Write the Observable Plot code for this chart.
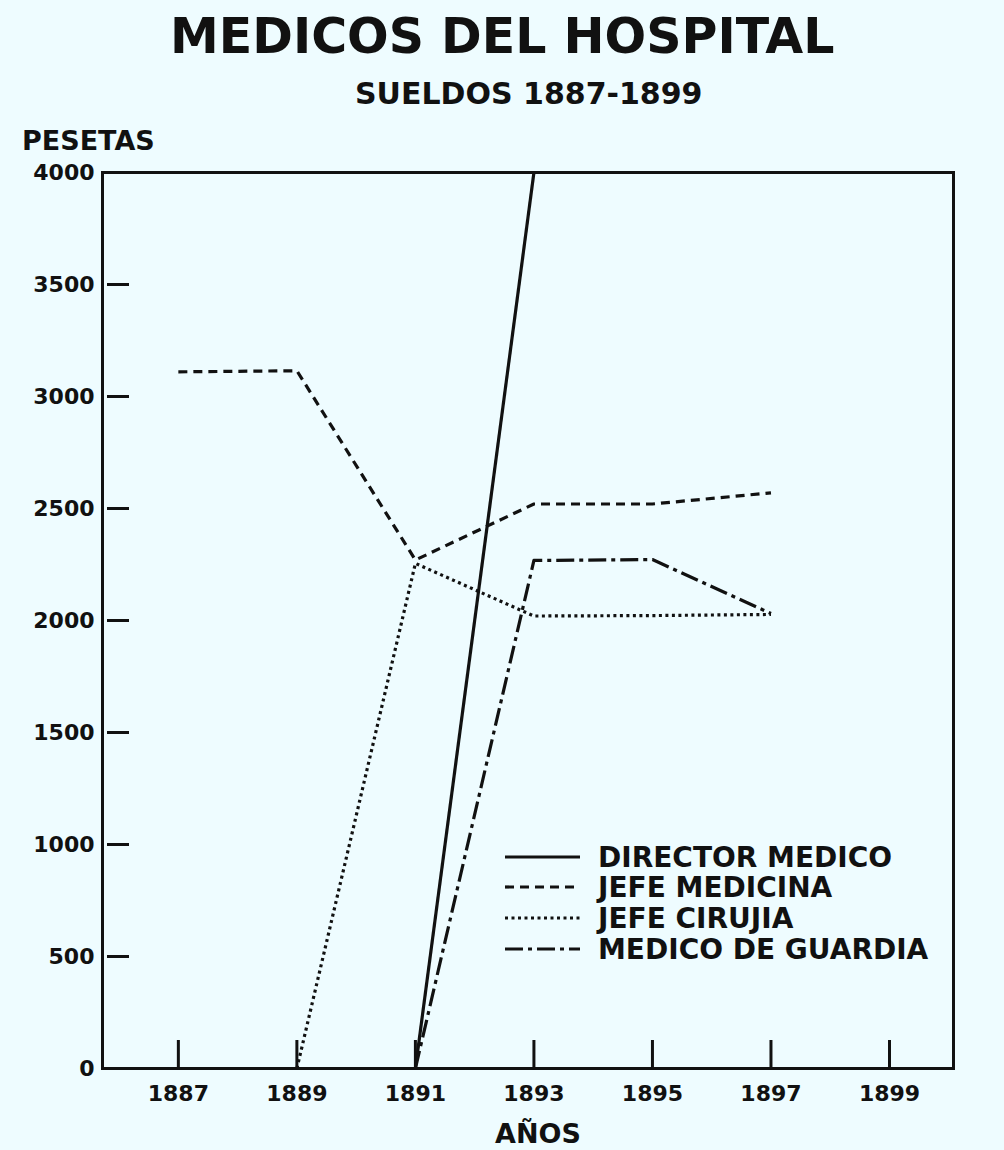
<!DOCTYPE html>
<html><head><meta charset="utf-8">
<script src="https://cdn.jsdelivr.net/npm/d3@7"></script>
<script src="https://cdn.jsdelivr.net/npm/@observablehq/plot@0.6"></script>
<style>
html,body{margin:0;padding:0;background:#eefcff;}
#wrap{position:relative;width:1004px;height:1150px;background:#eefcff;font-family:"DejaVu Sans",sans-serif;font-weight:bold;color:#111;overflow:hidden;}
.t{position:absolute;white-space:nowrap;line-height:1;}
#chart{position:absolute;left:0;top:120px;}
#legend{position:absolute;left:0;top:0;pointer-events:none;}
</style></head><body>
<div id="wrap">
  <div class="t" style="left:170px;top:12px;font-size:49px;">MEDICOS DEL HOSPITAL</div>
  <div class="t" style="left:355px;top:79px;font-size:30px;">SUELDOS 1887-1899</div>
  <div class="t" style="left:22px;top:127px;font-size:27px;">PESETAS</div>
  <div class="t" style="left:495px;top:1120px;font-size:27px;">AÑOS</div>
  <div id="chart"></div>
  <svg id="legend" width="1004" height="1150"></svg>
</div>
<script>
const years = [1887, 1889, 1891, 1893, 1895, 1897];
const directorMedico = [null, null, 0, 4000, null, null];
const jefeMedicina = [3110, 3115, 2270, 2520, 2520, 2570];
const jefeCirujia = [null, 0, 2255, 2020, 2022, 2027];
const medicoGuardia = [null, null, 0, 2268, 2272, 2031];
const seriesNames = ["DIRECTOR MEDICO", "JEFE MEDICINA", "JEFE CIRUJIA", "MEDICO DE GUARDIA"];
const xTicks = [1887, 1889, 1891, 1893, 1895, 1897, 1899];
const yTicks = [0, 500, 1000, 1500, 2000, 2500, 3000, 3500, 4000];

const dashes = [null, "9,6", "3,3.5", "18,5,4,5"];
const allValues = [directorMedico, jefeMedicina, jefeCirujia, medicoGuardia];
const rows = allValues.map(vals => years.map((year, i) => ({year, value: vals[i]})).filter(d => d.value != null));

const chart = Plot.plot({
  width: 1004, height: 1030,
  marginTop: 52, marginBottom: 82, marginLeft: 102, marginRight: 51,
  style: {background: "transparent", fontFamily: "DejaVu Sans", fontWeight: "bold", color: "#111", overflow: "visible"},
  x: {domain: [1885.72, 1900.08]},
  y: {domain: [0, 4000]},
  marks: [
    Plot.axisX(xTicks, {tickSize: 0, tickPadding: 17, tickFormat: "d", fontSize: 22, label: null}),
    Plot.axisX(xTicks, {tickSize: -28, fill: "none", strokeWidth: 3, label: null}),
    Plot.axisY(yTicks, {tickSize: 0, tickPadding: 8, tickFormat: "d", fontSize: 22, label: null}),
    Plot.axisY(yTicks, {tickSize: -22, dx: 5, fill: "none", strokeWidth: 3, label: null}),
    ...rows.map((r, i) => Plot.line(r, {x: "year", y: "value", stroke: "#111", strokeWidth: 3.2, strokeDasharray: dashes[i], strokeLinecap: "butt"})),
    Plot.frame({stroke: "#111", strokeWidth: 3})
  ]
});
document.getElementById("chart").appendChild(chart);

// legend
const lg = d3.select("#legend");
const rowY = [857, 887, 918, 949];
seriesNames.forEach((name, i) => {
  lg.append("line").attr("x1", 505).attr("x2", 580).attr("y1", rowY[i]).attr("y2", rowY[i])
    .attr("stroke", "#111").attr("stroke-width", 3.2).attr("stroke-dasharray", dashes[i]);
  lg.append("text").attr("x", 598).attr("y", rowY[i] + 10).text(name)
    .attr("font-family", "DejaVu Sans").attr("font-weight", "bold").attr("font-size", 28).attr("fill", "#111");
});
</script>
</body></html>
